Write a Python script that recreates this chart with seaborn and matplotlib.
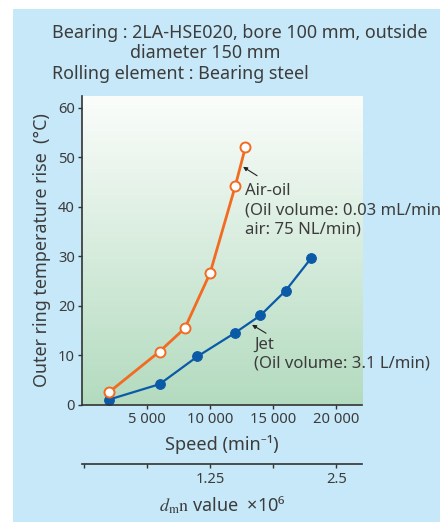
import numpy as np
import matplotlib
matplotlib.use('Agg')
import matplotlib.pyplot as plt
import seaborn as sns
import pandas as pd
from matplotlib.patches import Rectangle
from matplotlib.colors import LinearSegmentedColormap

# ---- data ----
airoil_speed = [2000, 6000, 8000, 10000, 12000, 12800]
airoil_rise = [2.6, 10.8, 15.5, 26.6, 44.2, 52.0]
jet_speed = [2000, 6000, 9000, 12000, 14000, 16000, 18000]
jet_rise = [1.1, 4.2, 9.8, 14.6, 18.1, 23.1, 29.6]
speed_ticks = [5000, 10000, 15000, 20000]
speed_ticklabels = ['5 000', '10 000', '15 000', '20 000']
temp_ticks = [0, 10, 20, 30, 40, 50, 60]
dmn_ticks = [0, 0.625, 1.25, 1.875, 2.5]
dmn_ticklabels = ['', '', '1.25', '', '2.5']
DMN_FACTOR = 125 / 1e6  # pitch diameter 125 mm

sns.set_style('white')
plt.rcParams['font.family'] = ['Noto Sans', 'DejaVu Sans']
plt.rcParams['mathtext.fontset'] = 'stix'
TXT = '#3c3c3c'
ORANGE = '#f26b21'
BLUE = '#0a5aa8'
BG = '#c6e8f8'

fig = plt.figure(figsize=(4.40, 5.22), dpi=100, facecolor='white')
fig.patches.append(Rectangle((13 / 440, 0), 1, 1 - 9 / 522, transform=fig.transFigure,
                             facecolor=BG, edgecolor='none', zorder=-10))

ax = fig.add_axes([82 / 440, 1 - 405 / 522, 280 / 440, 309 / 522])
ax.set_facecolor('none')

# gradient background
cmap = LinearSegmentedColormap.from_list('g', ['#b3dbbf', '#fbfdfb'])
grad = np.linspace(0, 1, 256).reshape(-1, 1)
ax.imshow(grad, extent=[0, 1, 0, 1], transform=ax.transAxes, aspect='auto',
          cmap=cmap, origin='lower', zorder=0)

df_air = pd.DataFrame({'speed': airoil_speed, 'rise': airoil_rise})
df_jet = pd.DataFrame({'speed': jet_speed, 'rise': jet_rise})

sns.lineplot(data=df_jet, x='speed', y='rise', ax=ax, color=BLUE, linewidth=1.6,
             marker='o', markersize=7, markerfacecolor=BLUE, markeredgecolor=BLUE,
             zorder=3)
sns.lineplot(data=df_air, x='speed', y='rise', ax=ax, color=ORANGE, linewidth=2.0,
             marker='o', markersize=7.2, markerfacecolor='white', markeredgecolor=ORANGE,
             markeredgewidth=1.4, zorder=4)

ax.set_xlim(-150, 22050)
ax.set_ylim(0, 62.4)
ax.set_xticks(speed_ticks)
ax.set_xticklabels(speed_ticklabels)
ax.set_yticks(temp_ticks)
for s in ['top', 'right']:
    ax.spines[s].set_visible(False)
for s in ['left', 'bottom']:
    ax.spines[s].set_color('#333333')
    ax.spines[s].set_linewidth(1.2)
    ax.spines[s].set_zorder(5)
ax.tick_params(axis='both', direction='out', length=3, width=1, color='#333333',
               labelcolor=TXT, labelsize=10.6, pad=2, left=True, bottom=True)
ax.set_xlabel('Speed (min⁻¹)', fontsize=13, color=TXT, labelpad=6)
ax.set_ylabel('Outer ring temperature rise  (°C)', fontsize=12.9, color=TXT, labelpad=5)

sec = ax.secondary_xaxis(-0.191, functions=(lambda x: x * DMN_FACTOR,
                                             lambda x: x / DMN_FACTOR))
sec.set_xticks(dmn_ticks)
sec.set_xticklabels(dmn_ticklabels)
sec.spines['bottom'].set_color('#333333')
sec.spines['bottom'].set_linewidth(1.2)
sec.tick_params(axis='x', direction='out', length=3, width=1, color='#333333',
                labelcolor=TXT, labelsize=10.6, pad=3)
sec.set_xlabel(r'$d_{\mathrm{m}}\mathrm{n}$ value  ×10⁶', fontsize=13, color=TXT, labelpad=5)

# annotations: arrows
arrow_kw = dict(arrowstyle='-|>', color='#222222', lw=0.8, mutation_scale=6,
                shrinkA=0, shrinkB=0)
ax.annotate('', xy=(12620, 48.1), xytext=(13730, 46.3), arrowprops=arrow_kw,
            annotation_clip=False, zorder=6)
ax.annotate('', xy=(13330, 16.2), xytext=(14440, 14.5), arrowprops=arrow_kw,
            annotation_clip=False, zorder=6)
# annotations: labels
ax.text(12780, 44.9, 'Air-oil\n(Oil volume: 0.03 mL/min\nair: 75 NL/min)',
        fontsize=12, color=TXT, va='top', ha='left', linespacing=1.3, zorder=6,
        clip_on=False)
ax.text(13490, 13.8, 'Jet\n(Oil volume: 3.1 L/min)',
        fontsize=12, color=TXT, va='top', ha='left', linespacing=1.26, zorder=6,
        clip_on=False)

# header text
fig.text(52 / 440, 1 - 33 / 522, 'Bearing : 2LA-HSE020, bore 100 mm, outside',
         fontsize=12.9, color=TXT, va='center', ha='left')
fig.text(130 / 440, 1 - 53 / 522, 'diameter 150 mm',
         fontsize=12.9, color=TXT, va='center', ha='left')
fig.text(52 / 440, 1 - 74 / 522, 'Rolling element : Bearing steel',
         fontsize=12.9, color=TXT, va='center', ha='left')

fig.savefig('out.png', dpi=100, facecolor=fig.get_facecolor())
